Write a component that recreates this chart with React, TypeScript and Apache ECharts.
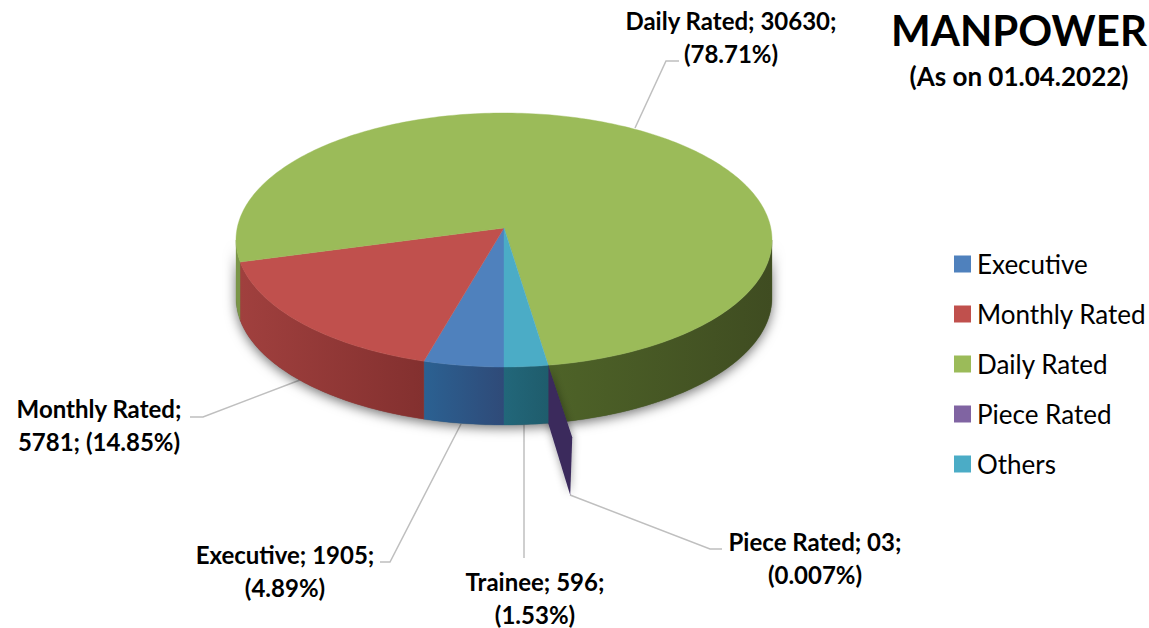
import React, { useEffect, useRef } from "react";
import * as echarts from "echarts";

const legendNames = ["Executive", "Monthly Rated", "Daily Rated", "Piece Rated", "Others"];
const headcounts = [1905, 5781, 30630, 3, 596];
// Sweep of each slice along the drawn rim, in degrees
const drawnSweeps = [17.4, 62.6, 270.5, 0, 9.5];
const topColors = ["#4f81bd", "#c0504d", "#9bbb59", "#8064a2", "#4bacc6"];
const wallStops = [
  ["#2b6192", "#2f4a78"],
  ["#a0403e", "#83302f"],
  ["#4e6328", "#3f4c21"],
  ["#3a2a5c", "#3a2a5c"],
  ["#22677a", "#1f5c6c"],
];
const labelTexts = [
  "Executive; 1905;\n(4.89%)",
  "Monthly Rated;\n5781; (14.85%)",
  "Daily Rated; 30630;\n(78.71%)",
  "Piece Rated; 03;\n(0.007%)",
  "Trainee; 596;\n(1.53%)",
];
const labelCenters = [
  [285, 571],
  [99, 425],
  [731, 37],
  [815, 558],
  [535, 598],
];
const leaders = [
  [[380, 562], [390, 562], [461, 424]],
  [[190, 417], [203, 417], [300, 380]],
  [[679, 61], [666, 61], [635, 128]],
  [[722, 549], [710, 549], [570, 495]],
  [[524, 558], [524, 424]],
];
const titleText = "MANPOWER";
const subtitleText = "(As on 01.04.2022)";

const FONT = "Lato";
const cx = 504;
const cy = 240;
const rx = 268;
const ry = 127;
const hubY = 228;
const depth = 58;

const rim = (deg: number, dy = 0) => {
  const t = (deg * Math.PI) / 180;
  return [cx - rx * Math.sin(t), cy + ry * Math.cos(t) + dy];
};
const arc = (a: number, b: number, dy = 0) => {
  const pts: number[][] = [];
  const n = Math.max(1, Math.ceil(Math.abs(b - a)));
  for (let i = 0; i <= n; i++) pts.push(rim(a + ((b - a) * i) / n, dy));
  return pts;
};

const wallPart = (a: number, b: number, i: number) => {
  // the short left end of the daily wall catches more light than its front
  const sliver = i === 2 && a < 180;
  return {
    type: "polygon",
    shape: { points: [...arc(a, b), ...arc(b, a, depth)] },
    style: {
      fill: sliver
        ? "#7a9548"
        : new echarts.graphic.LinearGradient(0, 0, 1, 0, [
            { offset: 0, color: wallStops[i][0] },
            { offset: 1, color: wallStops[i][1] },
          ]),
      stroke: sliver ? "#7a9548" : wallStops[i][0],
      lineWidth: 0.3,
    },
  };
};

const makeRender = (i: number) => (_params: any, api: any) => {
  const sweep = api.value(1);
  const start = drawnSweeps.slice(0, i).reduce((s, v) => s + v, 0);
  const end = start + sweep;
  const children: any[] = [];
  // front wall: only the part of the rim between -90 and +90 degrees faces the viewer
  if (start < 90) children.push(wallPart(start, Math.min(end, 90), i));
  if (end > 270) children.push(wallPart(Math.max(start, 270), end, i));
  if (sweep === 0) {
    // the zero-width slice shows only as a dark sliver pulled away from the rim
    const [x, y] = rim(start);
    children.push({
      type: "polygon",
      shape: { points: [[x, y], [x + 24, y + 72], [x + 22, y + 130], [x, y + 58]] },
      style: {
        fill: wallStops[i][0],
        shadowBlur: 9,
        shadowColor: "rgba(0,0,0,0.4)",
      },
    });
  } else {
    children.push({
      type: "polygon",
      shape: { points: [[cx, hubY], ...arc(start, end)] },
      style: { fill: topColors[i], stroke: topColors[i], lineWidth: 0.4 },
    });
  }
  return { type: "group", children };
};

const renderShadow = () => ({
  type: "polygon",
  shape: { points: [...arc(-90, 90), ...arc(90, -90, depth)] },
  style: {
    fill: "#555",
    shadowBlur: 12,
    shadowColor: "rgba(0,0,0,0.55)",
    shadowOffsetY: 3,
  },
});

export default function App() {
  const ref = useRef<HTMLDivElement>(null);
  useEffect(() => {
    document.body.style.margin = "0";
    const chart = echarts.init(ref.current!, null, { renderer: "svg" });
    chart.setOption({
      animation: false,
      backgroundColor: "#ffffff",
      title: {
        text: titleText,
        subtext: subtitleText,
        left: 1014,
        top: 4,
        textAlign: "center",
        itemGap: 12,
        textStyle: { fontFamily: FONT, fontWeight: "bold", fontSize: 42, color: "#000" },
        subtextStyle: { fontFamily: FONT, fontWeight: "bold", fontSize: 26, color: "#000" },
      },
      legend: {
        data: legendNames,
        orient: "vertical",
        left: 949,
        top: 246,
        itemWidth: 17,
        itemHeight: 17,
        itemGap: 24,
        selectedMode: false,
        icon: "rect",
        textStyle: { fontFamily: FONT, fontSize: 26, color: "#000", padding: [0, 0, 4, 1] },
      },
      series: [
        {
          type: "custom",
          name: "shadow",
          coordinateSystem: "none",
          silent: true,
          data: [[0]],
          renderItem: renderShadow,
        },
        ...legendNames.map((name, i) => ({
          type: "custom",
          name,
          coordinateSystem: "none",
          silent: true,
          itemStyle: { color: topColors[i] },
          data: [[headcounts[i], drawnSweeps[i]]],
          renderItem: makeRender(i),
        })),
      ],
      graphic: [
        ...leaders.map((points) => ({
          type: "polyline",
          shape: { points },
          style: { stroke: "#bfbfbf", lineWidth: 1.5, fill: "none" },
          silent: true,
        })),
        ...labelTexts.map((text, i) => ({
          type: "text",
          x: labelCenters[i][0],
          y: labelCenters[i][1],
          silent: true,
          style: {
            text,
            fontFamily: FONT,
            fontWeight: "bold",
            fontSize: 24,
            lineHeight: 33,
            fill: "#000",
            textAlign: "center",
            textVerticalAlign: "middle",
          },
        })),
      ],
    });
    return () => chart.dispose();
  }, []);
  return <div ref={ref} style={{ width: 1149, height: 628 }} />;
}
